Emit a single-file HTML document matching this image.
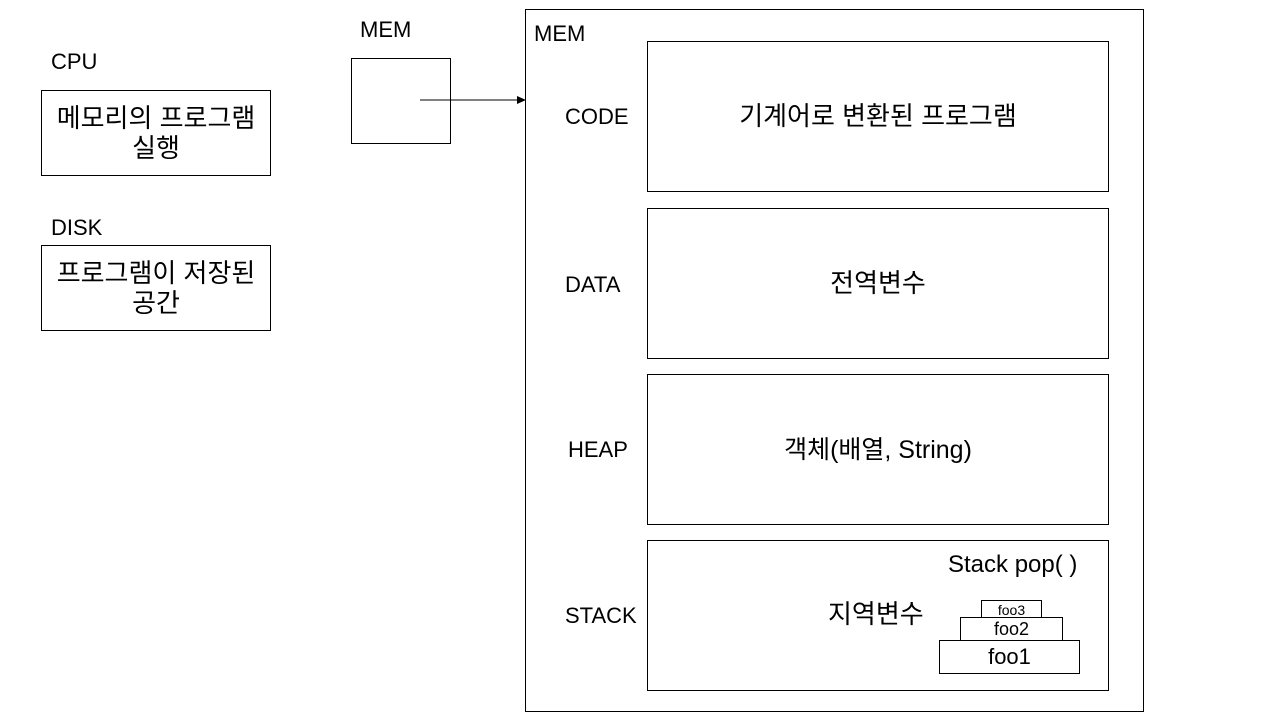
<!DOCTYPE html>
<html><head><meta charset="utf-8"><style>
body{margin:0;width:1280px;height:720px;background:#fff;position:relative;overflow:hidden;font-family:"Liberation Sans","Noto Sans CJK KR",sans-serif;color:#000}
.b{position:absolute;border:1px solid #000;box-sizing:border-box;background:#fff}
.t{position:absolute;font-size:22px;line-height:26px;white-space:nowrap}
.c{display:flex;align-items:center;justify-content:center;text-align:center}
.k{font-size:26px}
</style></head><body>
<div class="t" style="left:51px;top:49px">CPU</div>
<div class="b c k" style="left:41px;top:90px;width:230px;height:86px;line-height:30px">메모리의 프로그램<br>실행</div>
<div class="t" style="left:51px;top:215px">DISK</div>
<div class="b c k" style="left:41px;top:245px;width:230px;height:86px;line-height:30px">프로그램이 저장된<br>공간</div>
<div class="t" style="left:360px;top:17px">MEM</div>
<div class="b" style="left:351px;top:58px;width:100px;height:86px"></div>
<svg style="position:absolute;left:0;top:0" width="1280" height="720">
<line x1="420" y1="100" x2="518" y2="100" stroke="#000" stroke-width="1"/>
<polygon points="526,100 517,96 517,104" fill="#000"/>
</svg>
<div class="b" style="left:525px;top:9px;width:619px;height:703px;background:transparent"></div>
<div class="t" style="left:534px;top:21px">MEM</div>
<div class="t" style="left:565px;top:104px">CODE</div>
<div class="t" style="left:565px;top:272px">DATA</div>
<div class="t" style="left:568px;top:437px">HEAP</div>
<div class="t" style="left:565px;top:603px">STACK</div>
<div class="b c k" style="left:647px;top:41px;width:462px;height:151px;padding-bottom:4px">기계어로 변환된 프로그램</div>
<div class="b c k" style="left:647px;top:208px;width:462px;height:151px;padding-bottom:4px">전역변수</div>
<div class="b c" style="left:647px;top:374px;width:462px;height:151px;font-size:25px;padding-bottom:4px">객체(배열, String)</div>
<div class="b" style="left:647px;top:540px;width:462px;height:151px"></div>
<div class="t k" style="left:828px;top:599px;line-height:30px">지역변수</div>
<div class="t" style="left:948px;top:552px;font-size:24px">Stack pop( )</div>
<div class="b c" style="left:981px;top:600px;width:61px;height:19px;font-size:14px">foo3</div>
<div class="b c" style="left:960px;top:617px;width:103px;height:24px;font-size:18px">foo2</div>
<div class="b c" style="left:939px;top:640px;width:141px;height:34px;font-size:22px">foo1</div>
</body></html>
